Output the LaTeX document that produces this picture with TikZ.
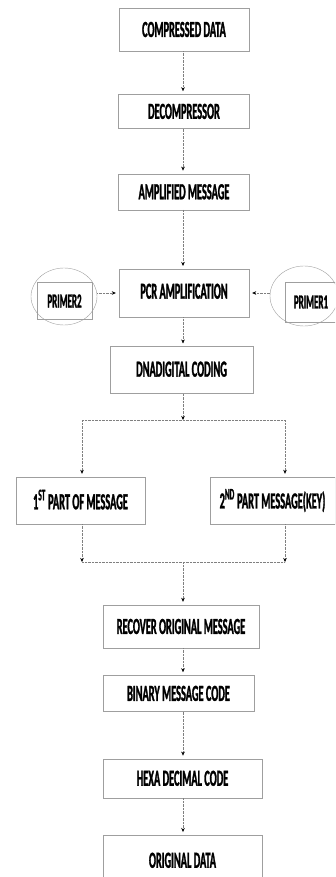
\documentclass[tikz,border=0pt]{standalone}
\usepackage{fontspec}
\usepackage{tikz}
\usetikzlibrary{shapes,arrows.meta,positioning,calc}
\newfontfamily\boxfont[FakeStretch=0.45, FakeBold=1.2, BoldFeatures={FakeStretch=0.45, FakeBold=1.2}]{Carlito}

\tikzset{
    box/.style={draw=gray!75, rectangle, inner sep=0pt, font=\boxfont\bfseries\fontsize{23}{24}\selectfont},
    primerbox/.style={draw=gray!75, rectangle, inner sep=0pt, font=\boxfont\bfseries\fontsize{20}{21}\selectfont},
    arr/.style={densely dotted, gray, -{Stealth[length=4pt,width=3.5pt,black]}, shorten >=3pt},
    ln/.style={densely dotted, gray}
}

\begin{document}
\begin{tikzpicture}[x=1pt, y=-1pt]

    \useasboundingbox (0,0) rectangle (335,877);
    \clip (0,0) rectangle (335,877);

    % Main column
    \node[box, minimum width=130pt, minimum height=43pt] (comp) at (184,29.5) {COMPRESSED DATA};
    \node[box, minimum width=131pt, minimum height=34pt, below=43pt of comp] (decomp) {DECOMPRESSOR};
    \node[box, minimum width=131pt, minimum height=36pt, below=45pt of decomp] (ampl) {AMPLIFIED MESSAGE};
    \node[box, minimum width=130pt, minimum height=48pt, below=59pt of ampl] (pcr) {\raisebox{4pt}{PCR AMPLIFICATION}};
    \node[box, minimum width=143pt, minimum height=47pt, below=29pt of pcr, xshift=-2.5pt] (dna) {\raisebox{2pt}{DNADIGITAL CODING}};

    % Primers
    \node[draw=gray!75, ellipse, minimum width=66pt, minimum height=57pt] (p2ring) at (64,296.5) {};
    \node[primerbox, minimum width=55pt, minimum height=37pt] (primer2) at (64.5,301) {PRIMER2};
    \node[draw=gray!75, ellipse, minimum width=68pt, minimum height=60pt] (p1ring) at (304,296) {};
    \node[primerbox, minimum width=52pt, minimum height=40pt] (primer1) at (311,302) {PRIMER1};

    % Message parts
    \node[box, minimum width=129pt, minimum height=47pt] (part1) at (80.5,500.5) {\raisebox{2pt}{1\textsuperscript{ST} PART OF MESSAGE}};
    \node[box, minimum width=125pt, minimum height=47pt] (part2) at (272.5,500.5) {\raisebox{2pt}{2\textsuperscript{ND} PART MESSAGE(KEY)}};

    % Recovery
    \node[box, minimum width=156pt, minimum height=43pt] (recover) at (181,626.5) {RECOVER ORIGINAL MESSAGE};
    \node[box, minimum width=151pt, minimum height=36pt, below=27pt of recover.south west, anchor=north west] (binary) {BINARY MESSAGE CODE};
    \node[box, minimum width=159pt, minimum height=39pt, below=47pt of binary.south west, anchor=north west] (hexa) {HEXA DECIMAL CODE};
    \node[box, minimum width=159pt, minimum height=60pt, below=37pt of hexa.south west, anchor=north west] (orig) {\raisebox{10pt}{ORIGINAL DATA}};

    % Split and join points
    \coordinate (split) at (183,420);
    \coordinate (splitL) at (82,420);
    \coordinate (splitR) at (285,420);
    \coordinate (join) at (183,562);
    \coordinate (joinL) at (82,562);
    \coordinate (joinR) at (285,562);

    % Relationships
    \draw[arr] (comp.south -| split) -- (decomp.north -| split);
    \draw[arr] (decomp.south -| split) -- (ampl.north -| split);
    \draw[arr] (ampl.south -| split) -- (pcr.north -| split);
    \draw[arr] (p2ring.east |- 0,293) -- (pcr.west |- 0,293);
    \draw[arr] (p1ring.west |- 0,293) -- (pcr.east |- 0,293);
    \draw[arr] (pcr.south -| split) -- (dna.north -| split);
    \draw[arr, shorten >=0pt] (dna.south -| split) -- (split);
    \draw[ln] (splitL) -- (splitR);
    \draw[arr] (splitL) -- (part1.north -| splitL);
    \draw[arr] (splitR) -- (part2.north -| splitR);
    \draw[arr, shorten >=0pt] (part1.south -| joinL) -- (joinL);
    \draw[arr, shorten >=0pt] (part2.south -| joinR) -- (joinR);
    \draw[ln] (joinL) -- (joinR);
    \draw[arr] (join) -- (recover.north -| join);
    \draw[arr] (recover.south -| join) -- (binary.north -| join);
    \draw[arr] (binary.south -| join) -- (hexa.north -| join);
    \draw[arr] (hexa.south -| join) -- (orig.north -| join);

\end{tikzpicture}
\end{document}
